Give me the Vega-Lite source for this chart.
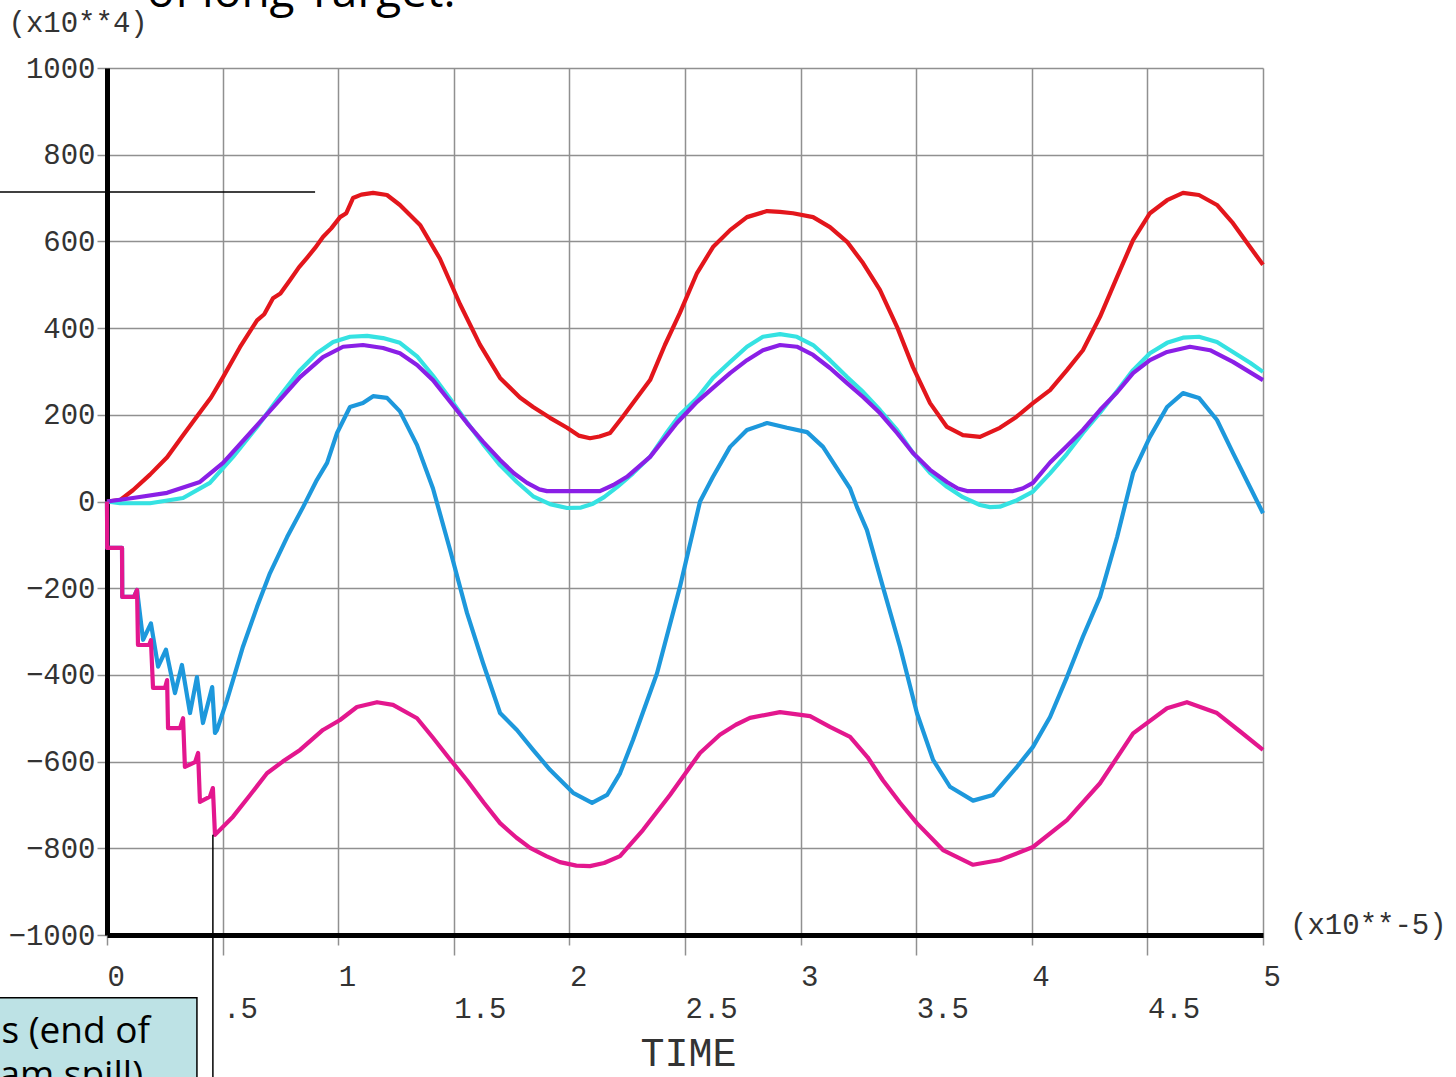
{
  "$schema": "https://vega.github.io/schema/vega-lite/v6.json",
  "width": 1156,
  "height": 867,
  "autosize": {"type": "none"},
  "padding": {"left": 107, "top": 68, "right": 193, "bottom": 142},
  "background": "white",
  "config": {"view": {"stroke": null}},
  "encoding": {
    "x": {
      "field": "t", "type": "quantitative",
      "scale": {"domain": [0, 5], "nice": false, "zero": false},
      "axis": {
        "values": [0, 0.5, 1, 1.5, 2, 2.5, 3, 3.5, 4, 4.5, 5],
        "format": "~g",
        "labelExpr": "datum.value == 0.5 ? '.5' : datum.label",
        "labelAlign": "left",
        "labelBaseline": "top",
        "labelFont": "Liberation Mono",
        "labelFontSize": 29,
        "labelColor": "#333333",
        "labelPadding": {"condition": {"test": "datum.value % 1 != 0", "value": 39}, "value": 17},
        "tickSize": {"condition": {"test": "datum.value % 1 != 0", "value": 20}, "value": 10},
        "tickColor": "#909090",
        "tickWidth": 1.5,
        "grid": true,
        "gridColor": "#909090",
        "gridWidth": 1.5,
        "domainColor": "#000000",
        "domainWidth": 5,
        "labelFlush": false,
        "labelOverlap": false,
        "labelBound": false,
        "title": "TIME",
        "titleFont": "Liberation Mono",
        "titleFontSize": 40,
        "titleFontWeight": "normal",
        "titleColor": "#333333",
        "titleX": 581,
        "titleY": 118,
        "titleAlign": "center",
        "titleBaseline": "middle"
      }
    },
    "y": {
      "field": "v", "type": "quantitative",
      "scale": {"domain": [-1000, 1000], "nice": false, "zero": false},
      "axis": {
        "values": [-1000, -800, -600, -400, -200, 0, 200, 400, 600, 800, 1000],
        "format": "d",
        "labelFont": "Liberation Mono",
        "labelFontSize": 29,
        "labelColor": "#333333",
        "labelPadding": 2,
        "tickSize": 10,
        "tickColor": "#909090",
        "tickWidth": 1.5,
        "grid": true,
        "gridColor": "#909090",
        "gridWidth": 1.5,
        "domainColor": "#000000",
        "domainWidth": 5,
        "labelFlush": false,
        "labelOverlap": false,
        "labelBound": false,
        "title": "(x10**4)",
        "titleAngle": 0,
        "titleFont": "Liberation Mono",
        "titleFontSize": 29,
        "titleFontWeight": "normal",
        "titleColor": "#333333",
        "titleX": -99,
        "titleY": -46,
        "titleAlign": "left",
        "titleBaseline": "middle"
      }
    }
  },
  "layer": [
    {
      "data": {"values": [
        {"s":"red","t":0,"v":0},{"s":"red","t":0.056,"v":3},{"s":"red","t":0.112,"v":26},{"s":"red","t":0.186,"v":62},{"s":"red","t":0.26,"v":102},{"s":"red","t":0.329,"v":153},{"s":"red","t":0.4,"v":204},{"s":"red","t":0.45,"v":240},{"s":"red","t":0.502,"v":287},{"s":"red","t":0.575,"v":356},{"s":"red","t":0.649,"v":418},{"s":"red","t":0.68,"v":432},{"s":"red","t":0.718,"v":469},{"s":"red","t":0.75,"v":480},{"s":"red","t":0.792,"v":511},{"s":"red","t":0.83,"v":540},{"s":"red","t":0.865,"v":562},{"s":"red","t":0.9,"v":585},{"s":"red","t":0.934,"v":610},{"s":"red","t":0.97,"v":630},{"s":"red","t":1.008,"v":656},{"s":"red","t":1.035,"v":665},{"s":"red","t":1.064,"v":700},{"s":"red","t":1.1,"v":708},{"s":"red","t":1.151,"v":712},{"s":"red","t":1.211,"v":707},{"s":"red","t":1.267,"v":684},{"s":"red","t":1.354,"v":638},{"s":"red","t":1.44,"v":560},{"s":"red","t":1.527,"v":455},{"s":"red","t":1.613,"v":362},{"s":"red","t":1.7,"v":285},{"s":"red","t":1.786,"v":240},{"s":"red","t":1.843,"v":218},{"s":"red","t":1.916,"v":193},{"s":"red","t":1.99,"v":170},{"s":"red","t":2.04,"v":152},{"s":"red","t":2.089,"v":146},{"s":"red","t":2.13,"v":150},{"s":"red","t":2.176,"v":158},{"s":"red","t":2.23,"v":195},{"s":"red","t":2.275,"v":227},{"s":"red","t":2.349,"v":280},{"s":"red","t":2.413,"v":361},{"s":"red","t":2.478,"v":435},{"s":"red","t":2.552,"v":527},{"s":"red","t":2.621,"v":587},{"s":"red","t":2.695,"v":626},{"s":"red","t":2.768,"v":656},{"s":"red","t":2.855,"v":670},{"s":"red","t":2.91,"v":668},{"s":"red","t":2.967,"v":665},{"s":"red","t":3.054,"v":656},{"s":"red","t":3.127,"v":633},{"s":"red","t":3.201,"v":599},{"s":"red","t":3.27,"v":550},{"s":"red","t":3.343,"v":488},{"s":"red","t":3.417,"v":403},{"s":"red","t":3.486,"v":310},{"s":"red","t":3.56,"v":227},{"s":"red","t":3.633,"v":172},{"s":"red","t":3.702,"v":153},{"s":"red","t":3.776,"v":149},{"s":"red","t":3.862,"v":170},{"s":"red","t":3.933,"v":195},{"s":"red","t":4.005,"v":227},{"s":"red","t":4.079,"v":257},{"s":"red","t":4.152,"v":303},{"s":"red","t":4.221,"v":349},{"s":"red","t":4.295,"v":426},{"s":"red","t":4.369,"v":518},{"s":"red","t":4.438,"v":603},{"s":"red","t":4.511,"v":665},{"s":"red","t":4.585,"v":695},{"s":"red","t":4.654,"v":712},{"s":"red","t":4.723,"v":707},{"s":"red","t":4.801,"v":684},{"s":"red","t":4.87,"v":642},{"s":"red","t":4.944,"v":587},{"s":"red","t":5.0,"v":546},

        {"s":"cyan","t":0,"v":0},{"s":"cyan","t":0.056,"v":-4},{"s":"cyan","t":0.186,"v":-4},{"s":"cyan","t":0.329,"v":8},{"s":"cyan","t":0.445,"v":43},{"s":"cyan","t":0.545,"v":103},{"s":"cyan","t":0.649,"v":172},{"s":"cyan","t":0.735,"v":234},{"s":"cyan","t":0.835,"v":303},{"s":"cyan","t":0.908,"v":342},{"s":"cyan","t":0.978,"v":368},{"s":"cyan","t":1.051,"v":380},{"s":"cyan","t":1.125,"v":382},{"s":"cyan","t":1.194,"v":377},{"s":"cyan","t":1.267,"v":366},{"s":"cyan","t":1.341,"v":335},{"s":"cyan","t":1.41,"v":290},{"s":"cyan","t":1.484,"v":237},{"s":"cyan","t":1.557,"v":183},{"s":"cyan","t":1.626,"v":133},{"s":"cyan","t":1.7,"v":84},{"s":"cyan","t":1.773,"v":45},{"s":"cyan","t":1.843,"v":12},{"s":"cyan","t":1.916,"v":-6},{"s":"cyan","t":1.99,"v":-15},{"s":"cyan","t":2.05,"v":-14},{"s":"cyan","t":2.102,"v":-5},{"s":"cyan","t":2.15,"v":10},{"s":"cyan","t":2.206,"v":33},{"s":"cyan","t":2.275,"v":65},{"s":"cyan","t":2.349,"v":103},{"s":"cyan","t":2.422,"v":160},{"s":"cyan","t":2.478,"v":200},{"s":"cyan","t":2.552,"v":238},{"s":"cyan","t":2.621,"v":285},{"s":"cyan","t":2.695,"v":322},{"s":"cyan","t":2.768,"v":357},{"s":"cyan","t":2.837,"v":380},{"s":"cyan","t":2.911,"v":386},{"s":"cyan","t":2.984,"v":380},{"s":"cyan","t":3.054,"v":361},{"s":"cyan","t":3.127,"v":326},{"s":"cyan","t":3.201,"v":287},{"s":"cyan","t":3.27,"v":253},{"s":"cyan","t":3.343,"v":211},{"s":"cyan","t":3.417,"v":165},{"s":"cyan","t":3.486,"v":112},{"s":"cyan","t":3.56,"v":66},{"s":"cyan","t":3.633,"v":34},{"s":"cyan","t":3.702,"v":10},{"s":"cyan","t":3.776,"v":-8},{"s":"cyan","t":3.819,"v":-13},{"s":"cyan","t":3.862,"v":-12},{"s":"cyan","t":3.936,"v":3},{"s":"cyan","t":4.005,"v":23},{"s":"cyan","t":4.079,"v":65},{"s":"cyan","t":4.152,"v":110},{"s":"cyan","t":4.221,"v":158},{"s":"cyan","t":4.295,"v":205},{"s":"cyan","t":4.369,"v":255},{"s":"cyan","t":4.438,"v":303},{"s":"cyan","t":4.511,"v":342},{"s":"cyan","t":4.585,"v":366},{"s":"cyan","t":4.654,"v":378},{"s":"cyan","t":4.723,"v":380},{"s":"cyan","t":4.801,"v":368},{"s":"cyan","t":4.87,"v":345},{"s":"cyan","t":4.944,"v":320},{"s":"cyan","t":5.0,"v":299},

        {"s":"purple","t":0,"v":0},{"s":"purple","t":0.112,"v":8},{"s":"purple","t":0.26,"v":20},{"s":"purple","t":0.402,"v":45},{"s":"purple","t":0.502,"v":89},{"s":"purple","t":0.619,"v":158},{"s":"purple","t":0.735,"v":227},{"s":"purple","t":0.835,"v":287},{"s":"purple","t":0.934,"v":333},{"s":"purple","t":1.021,"v":357},{"s":"purple","t":1.107,"v":361},{"s":"purple","t":1.194,"v":354},{"s":"purple","t":1.267,"v":342},{"s":"purple","t":1.341,"v":315},{"s":"purple","t":1.41,"v":280},{"s":"purple","t":1.484,"v":230},{"s":"purple","t":1.557,"v":181},{"s":"purple","t":1.626,"v":138},{"s":"purple","t":1.7,"v":96},{"s":"purple","t":1.76,"v":65},{"s":"purple","t":1.817,"v":43},{"s":"purple","t":1.87,"v":28},{"s":"purple","t":1.903,"v":24},{"s":"purple","t":2.132,"v":24},{"s":"purple","t":2.19,"v":38},{"s":"purple","t":2.249,"v":57},{"s":"purple","t":2.349,"v":103},{"s":"purple","t":2.465,"v":181},{"s":"purple","t":2.552,"v":230},{"s":"purple","t":2.621,"v":262},{"s":"purple","t":2.695,"v":296},{"s":"purple","t":2.768,"v":326},{"s":"purple","t":2.837,"v":349},{"s":"purple","t":2.911,"v":361},{"s":"purple","t":2.984,"v":357},{"s":"purple","t":3.054,"v":338},{"s":"purple","t":3.127,"v":308},{"s":"purple","t":3.201,"v":273},{"s":"purple","t":3.27,"v":241},{"s":"purple","t":3.343,"v":204},{"s":"purple","t":3.417,"v":158},{"s":"purple","t":3.486,"v":112},{"s":"purple","t":3.56,"v":73},{"s":"purple","t":3.633,"v":45},{"s":"purple","t":3.68,"v":30},{"s":"purple","t":3.72,"v":24},{"s":"purple","t":3.919,"v":24},{"s":"purple","t":3.96,"v":30},{"s":"purple","t":4.005,"v":43},{"s":"purple","t":4.079,"v":90},{"s":"purple","t":4.152,"v":128},{"s":"purple","t":4.221,"v":165},{"s":"purple","t":4.295,"v":211},{"s":"purple","t":4.369,"v":252},{"s":"purple","t":4.438,"v":296},{"s":"purple","t":4.511,"v":326},{"s":"purple","t":4.585,"v":345},{"s":"purple","t":4.684,"v":357},{"s":"purple","t":4.771,"v":349},{"s":"purple","t":4.87,"v":322},{"s":"purple","t":5.0,"v":280},

        {"s":"blue","t":0,"v":0},{"s":"blue","t":0.001,"v":-107},{"s":"blue","t":0.065,"v":-107},{"s":"blue","t":0.066,"v":-220},{"s":"blue","t":0.117,"v":-220},{"s":"blue","t":0.13,"v":-204},{"s":"blue","t":0.156,"v":-319},{"s":"blue","t":0.19,"v":-281},{"s":"blue","t":0.221,"v":-381},{"s":"blue","t":0.255,"v":-342},{"s":"blue","t":0.294,"v":-442},{"s":"blue","t":0.324,"v":-377},{"s":"blue","t":0.359,"v":-488},{"s":"blue","t":0.389,"v":-405},{"s":"blue","t":0.415,"v":-511},{"s":"blue","t":0.455,"v":-428},{"s":"blue","t":0.467,"v":-534},{"s":"blue","t":0.476,"v":-527},{"s":"blue","t":0.519,"v":-458},{"s":"blue","t":0.545,"v":-412},{"s":"blue","t":0.588,"v":-335},{"s":"blue","t":0.649,"v":-243},{"s":"blue","t":0.705,"v":-165},{"s":"blue","t":0.779,"v":-82},{"s":"blue","t":0.848,"v":-13},{"s":"blue","t":0.908,"v":50},{"s":"blue","t":0.952,"v":89},{"s":"blue","t":0.995,"v":158},{"s":"blue","t":1.051,"v":218},{"s":"blue","t":1.107,"v":227},{"s":"blue","t":1.151,"v":243},{"s":"blue","t":1.211,"v":239},{"s":"blue","t":1.267,"v":208},{"s":"blue","t":1.341,"v":130},{"s":"blue","t":1.41,"v":30},{"s":"blue","t":1.484,"v":-112},{"s":"blue","t":1.557,"v":-257},{"s":"blue","t":1.626,"v":-372},{"s":"blue","t":1.7,"v":-488},{"s":"blue","t":1.773,"v":-527},{"s":"blue","t":1.843,"v":-573},{"s":"blue","t":1.916,"v":-619},{"s":"blue","t":2.016,"v":-672},{"s":"blue","t":2.098,"v":-695},{"s":"blue","t":2.163,"v":-677},{"s":"blue","t":2.219,"v":-627},{"s":"blue","t":2.275,"v":-550},{"s":"blue","t":2.379,"v":-396},{"s":"blue","t":2.478,"v":-197},{"s":"blue","t":2.565,"v":0},{"s":"blue","t":2.621,"v":57},{"s":"blue","t":2.695,"v":126},{"s":"blue","t":2.768,"v":165},{"s":"blue","t":2.855,"v":181},{"s":"blue","t":2.941,"v":170},{"s":"blue","t":3.028,"v":160},{"s":"blue","t":3.097,"v":126},{"s":"blue","t":3.17,"v":66},{"s":"blue","t":3.214,"v":30},{"s":"blue","t":3.244,"v":-13},{"s":"blue","t":3.287,"v":-66},{"s":"blue","t":3.356,"v":-197},{"s":"blue","t":3.43,"v":-335},{"s":"blue","t":3.503,"v":-488},{"s":"blue","t":3.573,"v":-596},{"s":"blue","t":3.646,"v":-658},{"s":"blue","t":3.746,"v":-690},{"s":"blue","t":3.832,"v":-677},{"s":"blue","t":3.936,"v":-612},{"s":"blue","t":4.005,"v":-566},{"s":"blue","t":4.079,"v":-497},{"s":"blue","t":4.152,"v":-405},{"s":"blue","t":4.221,"v":-312},{"s":"blue","t":4.295,"v":-220},{"s":"blue","t":4.369,"v":-82},{"s":"blue","t":4.438,"v":66},{"s":"blue","t":4.511,"v":149},{"s":"blue","t":4.585,"v":218},{"s":"blue","t":4.654,"v":250},{"s":"blue","t":4.723,"v":239},{"s":"blue","t":4.801,"v":188},{"s":"blue","t":4.87,"v":112},{"s":"blue","t":4.944,"v":33},{"s":"blue","t":5.0,"v":-27},

        {"s":"magenta","t":0,"v":0},{"s":"magenta","t":0.001,"v":-107},{"s":"magenta","t":0.065,"v":-107},{"s":"magenta","t":0.066,"v":-220},{"s":"magenta","t":0.117,"v":-220},{"s":"magenta","t":0.13,"v":-204},{"s":"magenta","t":0.134,"v":-331},{"s":"magenta","t":0.182,"v":-331},{"s":"magenta","t":0.19,"v":-320},{"s":"magenta","t":0.199,"v":-430},{"s":"magenta","t":0.251,"v":-430},{"s":"magenta","t":0.26,"v":-412},{"s":"magenta","t":0.264,"v":-523},{"s":"magenta","t":0.316,"v":-523},{"s":"magenta","t":0.329,"v":-500},{"s":"magenta","t":0.337,"v":-612},{"s":"magenta","t":0.381,"v":-601},{"s":"magenta","t":0.394,"v":-580},{"s":"magenta","t":0.402,"v":-693},{"s":"magenta","t":0.445,"v":-681},{"s":"magenta","t":0.458,"v":-661},{"s":"magenta","t":0.467,"v":-769},{"s":"magenta","t":0.545,"v":-727},{"s":"magenta","t":0.619,"v":-677},{"s":"magenta","t":0.692,"v":-627},{"s":"magenta","t":0.76,"v":-600},{"s":"magenta","t":0.835,"v":-573},{"s":"magenta","t":0.934,"v":-527},{"s":"magenta","t":1.008,"v":-504},{"s":"magenta","t":1.081,"v":-474},{"s":"magenta","t":1.168,"v":-463},{"s":"magenta","t":1.237,"v":-469},{"s":"magenta","t":1.341,"v":-500},{"s":"magenta","t":1.41,"v":-545},{"s":"magenta","t":1.484,"v":-595},{"s":"magenta","t":1.557,"v":-643},{"s":"magenta","t":1.63,"v":-695},{"s":"magenta","t":1.7,"v":-742},{"s":"magenta","t":1.77,"v":-775},{"s":"magenta","t":1.83,"v":-799},{"s":"magenta","t":1.9,"v":-818},{"s":"magenta","t":1.959,"v":-832},{"s":"magenta","t":2.03,"v":-840},{"s":"magenta","t":2.089,"v":-841},{"s":"magenta","t":2.15,"v":-834},{"s":"magenta","t":2.219,"v":-818},{"s":"magenta","t":2.318,"v":-758},{"s":"magenta","t":2.435,"v":-677},{"s":"magenta","t":2.565,"v":-580},{"s":"magenta","t":2.651,"v":-538},{"s":"magenta","t":2.72,"v":-515},{"s":"magenta","t":2.781,"v":-499},{"s":"magenta","t":2.911,"v":-486},{"s":"magenta","t":3.041,"v":-495},{"s":"magenta","t":3.127,"v":-520},{"s":"magenta","t":3.214,"v":-543},{"s":"magenta","t":3.29,"v":-590},{"s":"magenta","t":3.356,"v":-643},{"s":"magenta","t":3.43,"v":-695},{"s":"magenta","t":3.503,"v":-742},{"s":"magenta","t":3.616,"v":-804},{"s":"magenta","t":3.746,"v":-838},{"s":"magenta","t":3.862,"v":-827},{"s":"magenta","t":4.005,"v":-797},{"s":"magenta","t":4.152,"v":-735},{"s":"magenta","t":4.295,"v":-650},{"s":"magenta","t":4.438,"v":-535},{"s":"magenta","t":4.585,"v":-477},{"s":"magenta","t":4.671,"v":-463},{"s":"magenta","t":4.801,"v":-488},{"s":"magenta","t":4.9,"v":-530},{"s":"magenta","t":5.0,"v":-573}
      ]},
      "mark": {"type": "line", "strokeWidth": 4.2, "interpolate": "linear", "strokeJoin": "round"},
      "encoding": {
        "color": {
          "field": "s", "type": "nominal", "legend": null,
          "scale": {"domain": ["red", "cyan", "purple", "blue", "magenta"],
                    "range": ["#e3161c", "#35e2e2", "#8a1fe6", "#1d98dc", "#e3178e"]}
        }
      }
    },
    {
      "data": {"values": [{"t": -0.47, "t2": 0.389, "v": -1145, "v2": -1345}]},
      "mark": {"type": "rect", "fill": "#bde2e5", "stroke": "#000000", "strokeWidth": 1.5},
      "encoding": {"x2": {"field": "t2"}, "y2": {"field": "v2"}}
    },
    {
      "data": {"values": [{"t": -0.463, "t2": 0.9, "v": 714}]},
      "mark": {"type": "rule", "color": "#000000", "strokeWidth": 1.5},
      "encoding": {"x2": {"field": "t2"}}
    },
    {
      "data": {"values": [{"t": 0.458, "v": -769, "v2": -1335}]},
      "mark": {"type": "rule", "color": "#000000", "strokeWidth": 1.5},
      "encoding": {"y2": {"field": "v2"}}
    },
    {
      "data": {"values": [{"t": 0.186, "v": -1249, "label": "s (end of"}, {"t": 0.156, "v": -1351, "label": "am spill)"}]},
      "mark": {"type": "text", "align": "right", "baseline": "alphabetic", "font": "Open Sans", "fontSize": 37, "color": "#000000"},
      "encoding": {"text": {"field": "label"}}
    },
    {
      "data": {"values": [{"t": 0.173, "v": 1141, "label": "of long Target."}]},
      "mark": {"type": "text", "align": "left", "baseline": "alphabetic", "font": "Open Sans", "fontSize": 46, "color": "#000000"},
      "encoding": {"text": {"field": "label"}}
    },
    {
      "data": {"values": [{"t": 5.117, "v": -977, "label": "(x10**-5)"}]},
      "mark": {"type": "text", "align": "left", "baseline": "middle", "font": "Liberation Mono", "fontSize": 29, "color": "#333333"},
      "encoding": {"text": {"field": "label"}}
    }
  ]
}
